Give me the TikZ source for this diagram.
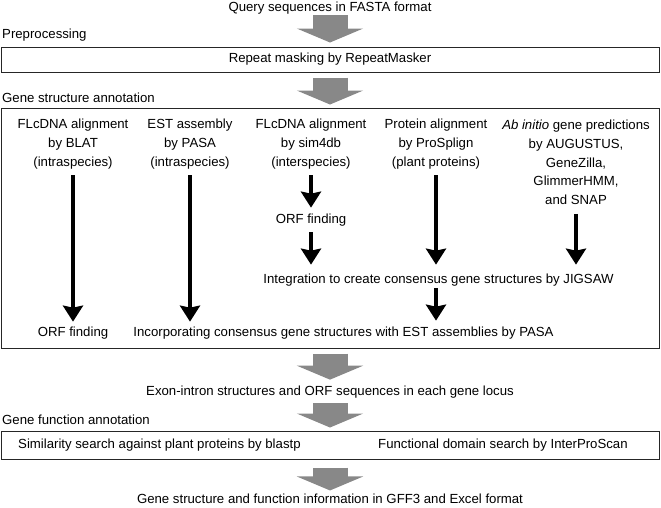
\documentclass[tikz,border=0pt]{standalone}
\usepackage{fontspec}
\setmainfont{Liberation Sans}
\usepackage{xcolor}
\usetikzlibrary{arrows.meta,calc,positioning}
\definecolor{arrowgray}{RGB}{136,136,136}

\begin{document}
\begin{tikzpicture}[x=1pt,y=-1pt]
		\tikzstyle{every node}=[font=\fontsize{13.2pt}{18.7pt}\selectfont, inner sep=1pt, align=center]
		\tikzstyle{panel}=[draw=black!85, line width=1pt, minimum width=658pt]
		\tikzstyle{stage}=[anchor=west]
		\tikzstyle{bigarrow}=[draw=arrowgray, line width=35pt, -{Triangle[length=14pt,width=66pt]}]
		\tikzstyle{flow}=[line width=3.6pt, -{Stealth[length=16pt,width=20pt,inset=2pt]}]
		\useasboundingbox (0,0) rectangle (661,507);
		% input and preprocessing
		\node (query) at (330,8) {Query sequences in FASTA format};
		\node [stage] (prep) at (1,35) {Preprocessing};
		\node [panel, minimum height=25pt] (mask) at (330,59.5) {Repeat masking by RepeatMasker};
		% gene structure annotation
		\node [stage] (gsa) at (1,98) {Gene structure annotation};
		\node [panel, minimum height=240pt] (gsbox) at (330,228) {};
		\node (blat) at (73,144) {FLcDNA alignment\\by BLAT\\(intraspecies)};
		\node (pasa) at (190,144) {EST assembly\\by PASA\\(intraspecies)};
		\node (sim) at (311,144) {FLcDNA alignment\\by sim4db\\(interspecies)};
		\node (prot) at (436,144) {Protein alignment\\by ProSplign\\(plant proteins)};
		\node (abi) at (576,162.5) {\textit{Ab initio} gene predictions\\by AUGUSTUS,\\GeneZilla,\\GlimmerHMM,\\and SNAP};
		\node (orfa) at (311,220) {ORF finding};
		\node (jig) at (438.5,280) {Integration to create consensus gene structures by JIGSAW};
		\node (orfb) at (73,333) {ORF finding};
		\node (incorp) at (343.5,333) {Incorporating consensus gene structures with EST assemblies by PASA};
		% gene function annotation
		\node (exon) at (330,392) {Exon-intron structures and ORF sequences in each gene locus};
		\node [stage] (gfa) at (1,420) {Gene function annotation};
		\node [panel, minimum height=28pt] (funcbox) at (330,445) {};
		\node [stage] (blastp) at (17,445) {Similarity search against plant proteins by blastp};
		\node [stage] (ipr) at (377,445) {Functional domain search by InterProScan};
		\node (final) at (330,498.5) {Gene structure and function information in GFF3 and Excel format};
		% gray block arrows
		\draw [bigarrow, shorten >=4pt] (query.south) -- (mask.north);
		\draw [bigarrow, shorten <=5pt, shorten >=3pt] (mask.south) -- (gsbox.north);
		\draw [bigarrow, shorten <=5pt, shorten >=5pt] (gsbox.south) -- (exon.north);
		\draw [bigarrow, shorten <=4pt, shorten >=3pt] (exon.south) -- (funcbox.north);
		\draw [bigarrow, shorten <=8pt, shorten >=2pt] (funcbox.south) -- (final.north);
		% black arrows
		\draw [flow, shorten <=5pt, shorten >=4pt] (blat.south) -- (orfb.north);
		\draw [flow, shorten <=5pt, shorten >=4pt] (pasa.south) -- (pasa.south |- incorp.north);
		\draw [flow, shorten <=5pt, shorten >=5pt] (sim.south) -- (orfa.north);
		\draw [flow, shorten <=5pt, shorten >=8pt] (orfa.south) -- (orfa.south |- jig.north);
		\draw [flow, shorten <=5pt, shorten >=8pt] (prot.south) -- (prot.south |- jig.north);
		\draw [flow, shorten <=8pt, shorten >=8pt] (abi.south) -- (abi.south |- jig.north);
		\draw [flow, shorten <=1pt, shorten >=5pt] (jig.south -| prot) -- (incorp.north -| prot);
	\end{tikzpicture}
\end{document}
